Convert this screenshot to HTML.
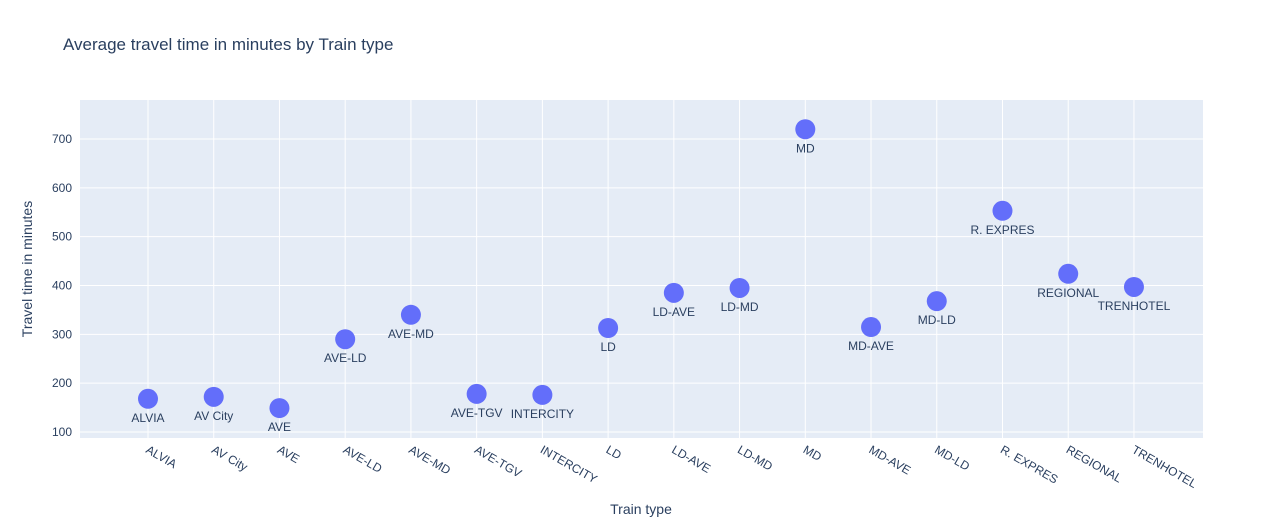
<!DOCTYPE html>
<html><head><meta charset="utf-8"><style>
body{margin:0;background:#fff;font-family:"Liberation Sans",Arial,sans-serif}
svg text{font-family:"Liberation Sans",Arial,sans-serif;fill:#2a3f5f}
</style></head><body>
<svg id="chart" width="1283" height="525">
<text x="63" y="50" font-size="17">Average travel time in minutes by Train type</text>
<rect x="80" y="100" width="1123" height="338" fill="#e5ecf6"/>
<g id="grid"></g><g id="marks"></g><g id="ticks"></g>
<text x="641" y="514" font-size="14" text-anchor="middle">Train type</text>
<text transform="translate(32,269) rotate(-90)" font-size="14" text-anchor="middle">Travel time in minutes</text>
</svg>
<script>
const categories=["ALVIA","AV City","AVE","AVE-LD","AVE-MD","AVE-TGV","INTERCITY","LD","LD-AVE","LD-MD","MD","MD-AVE","MD-LD","R. EXPRES","REGIONAL","TRENHOTEL"];
const values=[168,172,149,290,340,178,176,313,385,395,720,315,368,553,424,397];
const yTicks=[100,200,300,400,500,600,700];
const NS="http://www.w3.org/2000/svg";
const x=i=>148+i*65.73;
const y=v=>432-(v-100)*0.4883;
function mk(t,a,p,txt){const e=document.createElementNS(NS,t);for(const k in a)e.setAttribute(k,a[k]);if(txt!==undefined)e.textContent=txt;p.appendChild(e);return e;}
const grid=document.getElementById('grid'),marks=document.getElementById('marks'),ticks=document.getElementById('ticks');
yTicks.forEach(v=>{
 const l=mk('line',{x1:80,x2:1203,y1:y(v),y2:y(v),stroke:'#fff','stroke-width':1},grid);
 
 
 const t=mk('text',{x:72,y:y(v)+4,'font-size':12,'text-anchor':'end'},ticks,v);
 
 
});
categories.forEach((c,i)=>{
 const l=mk('line',{x1:x(i),x2:x(i),y1:100,y2:438,stroke:'#fff','stroke-width':1},grid);
 
 
 const t=mk('text',{transform:`translate(${x(i)-3},${452}) rotate(30)`,'font-size':12},ticks,c);
 
 
 const p=mk('circle',{cx:x(i),cy:y(values[i]),r:10,fill:'#636efa'},marks);
 
 
 const lb=mk('text',{x:x(i),y:y(values[i])+23,'font-size':12,'text-anchor':'middle'},marks,c);
 
 
});
</script>
</body></html>
